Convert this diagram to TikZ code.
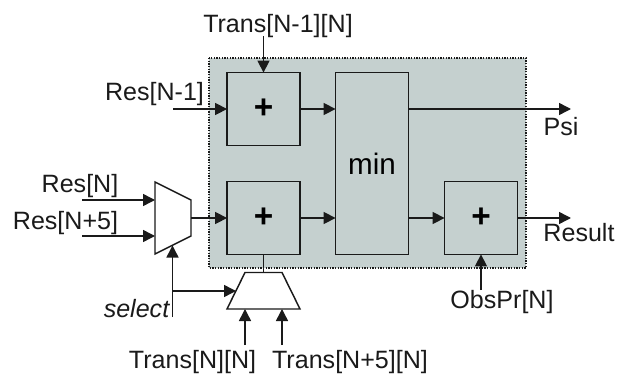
\documentclass[tikz,border=0pt]{standalone}
\usepackage{fontspec}
\setmainfont{Liberation Sans}
\usetikzlibrary{arrows.meta}
\definecolor{panelgray}{HTML}{C5D0CF}
\definecolor{inkline}{HTML}{1A1A1A}
\tikzset{
  x=0.75pt,y=-0.75pt,
  block/.style={draw=inkline,line width=1.1pt,fill=panelgray,inner sep=0pt,outer sep=0pt,minimum width=54.6pt,minimum height=54.6pt,font=\fontsize{25}{27}\selectfont},
  muxshape/.style={draw=inkline,line width=1.1pt,fill=white,line join=miter},
  wire/.style={draw=inkline,line width=1.1pt,-{Triangle[length=9pt,width=9pt]},shorten >=0pt},
  plainwire/.style={draw=inkline,line width=1.1pt},
  lbl/.style={anchor=base,inner sep=0pt,outer sep=0pt,text=inkline,font=\fontsize{18.8}{20}\selectfont},
}
\begin{document}
\begin{tikzpicture}
\useasboundingbox (0,0) rectangle (626,375);
% panel
\draw[fill=panelgray,draw=inkline,line width=1pt,densely dotted] (209,58) rectangle (526,268);
% blocks
\node[block] (addtop) at (263.5,109) {\textbf{+}};
\node[block] (addbot) at (263.5,218) {\textbf{+}};
\node[block,minimum height=136.5pt,font=\fontsize{22.2}{24}\selectfont] (minb) at (372,163.5) {min};
\node[block] (addres) at (481,218) {\textbf{+}};
% multiplexers
\coordinate (ma) at (155,182);
\coordinate (mb) at (191,200);
\coordinate (mc) at (191,236);
\coordinate (md) at (155,254);
\draw[muxshape] (ma) -- (mb) -- (mc) -- (md) -- cycle;
\coordinate (mout) at (191,218);
\coordinate (mselin) at (172.5,245.5);
\coordinate (min1) at (155,200);
\coordinate (min2) at (155,236);
\coordinate (ba) at (245,272.5);
\coordinate (bb) at (282,272.5);
\coordinate (bc) at (300,309);
\coordinate (bd) at (227,309);
\draw[muxshape] (ba) -- (bb) -- (bc) -- (bd) -- cycle;
\coordinate (btop) at (263.5,272.5);
\coordinate (bselin) at (236,291);
\coordinate (bin1) at (245,309);
\coordinate (bin2) at (282,309);
% free ends
\coordinate (fresn1) at (173,109);
\coordinate (ftrans) at (263.5,36);
\coordinate (fres) at (82,200);
\coordinate (fres5) at (82,236);
\coordinate (fsel) at (172.5,317);
\coordinate (fbranch) at (172.5,291);
\coordinate (ft1) at (245,345);
\coordinate (ft2) at (282,345);
\coordinate (fpsi) at (571,109);
\coordinate (fresult) at (571,218);
\coordinate (fobs) at (481,290);
% connectors
\draw[wire] (fresn1) -- (addtop.west);
\draw[wire] (ftrans) -- (addtop.north);
\draw[wire] (addtop.east) -- (addtop.east -| minb.west);
\draw[wire] (addbot.east) -- (addbot.east -| minb.west);
\draw[wire] (mout) -- (addbot.west);
\draw[wire] (fres) -- (min1);
\draw[wire] (fres5) -- (min2);
\draw[wire] (fsel) -- (mselin);
\draw[wire] (fbranch) -- (bselin);
\draw[plainwire] (addbot.south) -- (btop);
\draw[wire] (ft1) -- (bin1);
\draw[wire] (ft2) -- (bin2);
\draw[wire] (addtop.east -| minb.east) -- (fpsi);
\draw[wire] (addres.west -| minb.east) -- (addres.west);
\draw[wire] (addres.east) -- (fresult);
\draw[wire] (fobs) -- (addres.south);
% labels
\node[lbl] (ltrans) at (278,32) {Trans[N-1][N]};
\node[lbl] (lresn1) at (154.5,100.5) {Res[N-1]};
\node[lbl] (lres) at (80,192) {Res[N]};
\node[lbl] (lres5) at (65.5,229) {Res[N+5]};
\node[lbl,font=\fontsize{18.8}{20}\selectfont\itshape] (lsel) at (136.5,317) {select};
\node[lbl] (lt1) at (192.5,368) {Trans[N][N]};
\node[lbl] (lt2) at (350,368) {Trans[N+5][N]};
\node[lbl] (lpsi) at (561,135) {Psi};
\node[lbl] (lresult) at (579,241) {Result};
\node[lbl] (lobs) at (502,308) {ObsPr[N]};
\end{tikzpicture}
\end{document}
